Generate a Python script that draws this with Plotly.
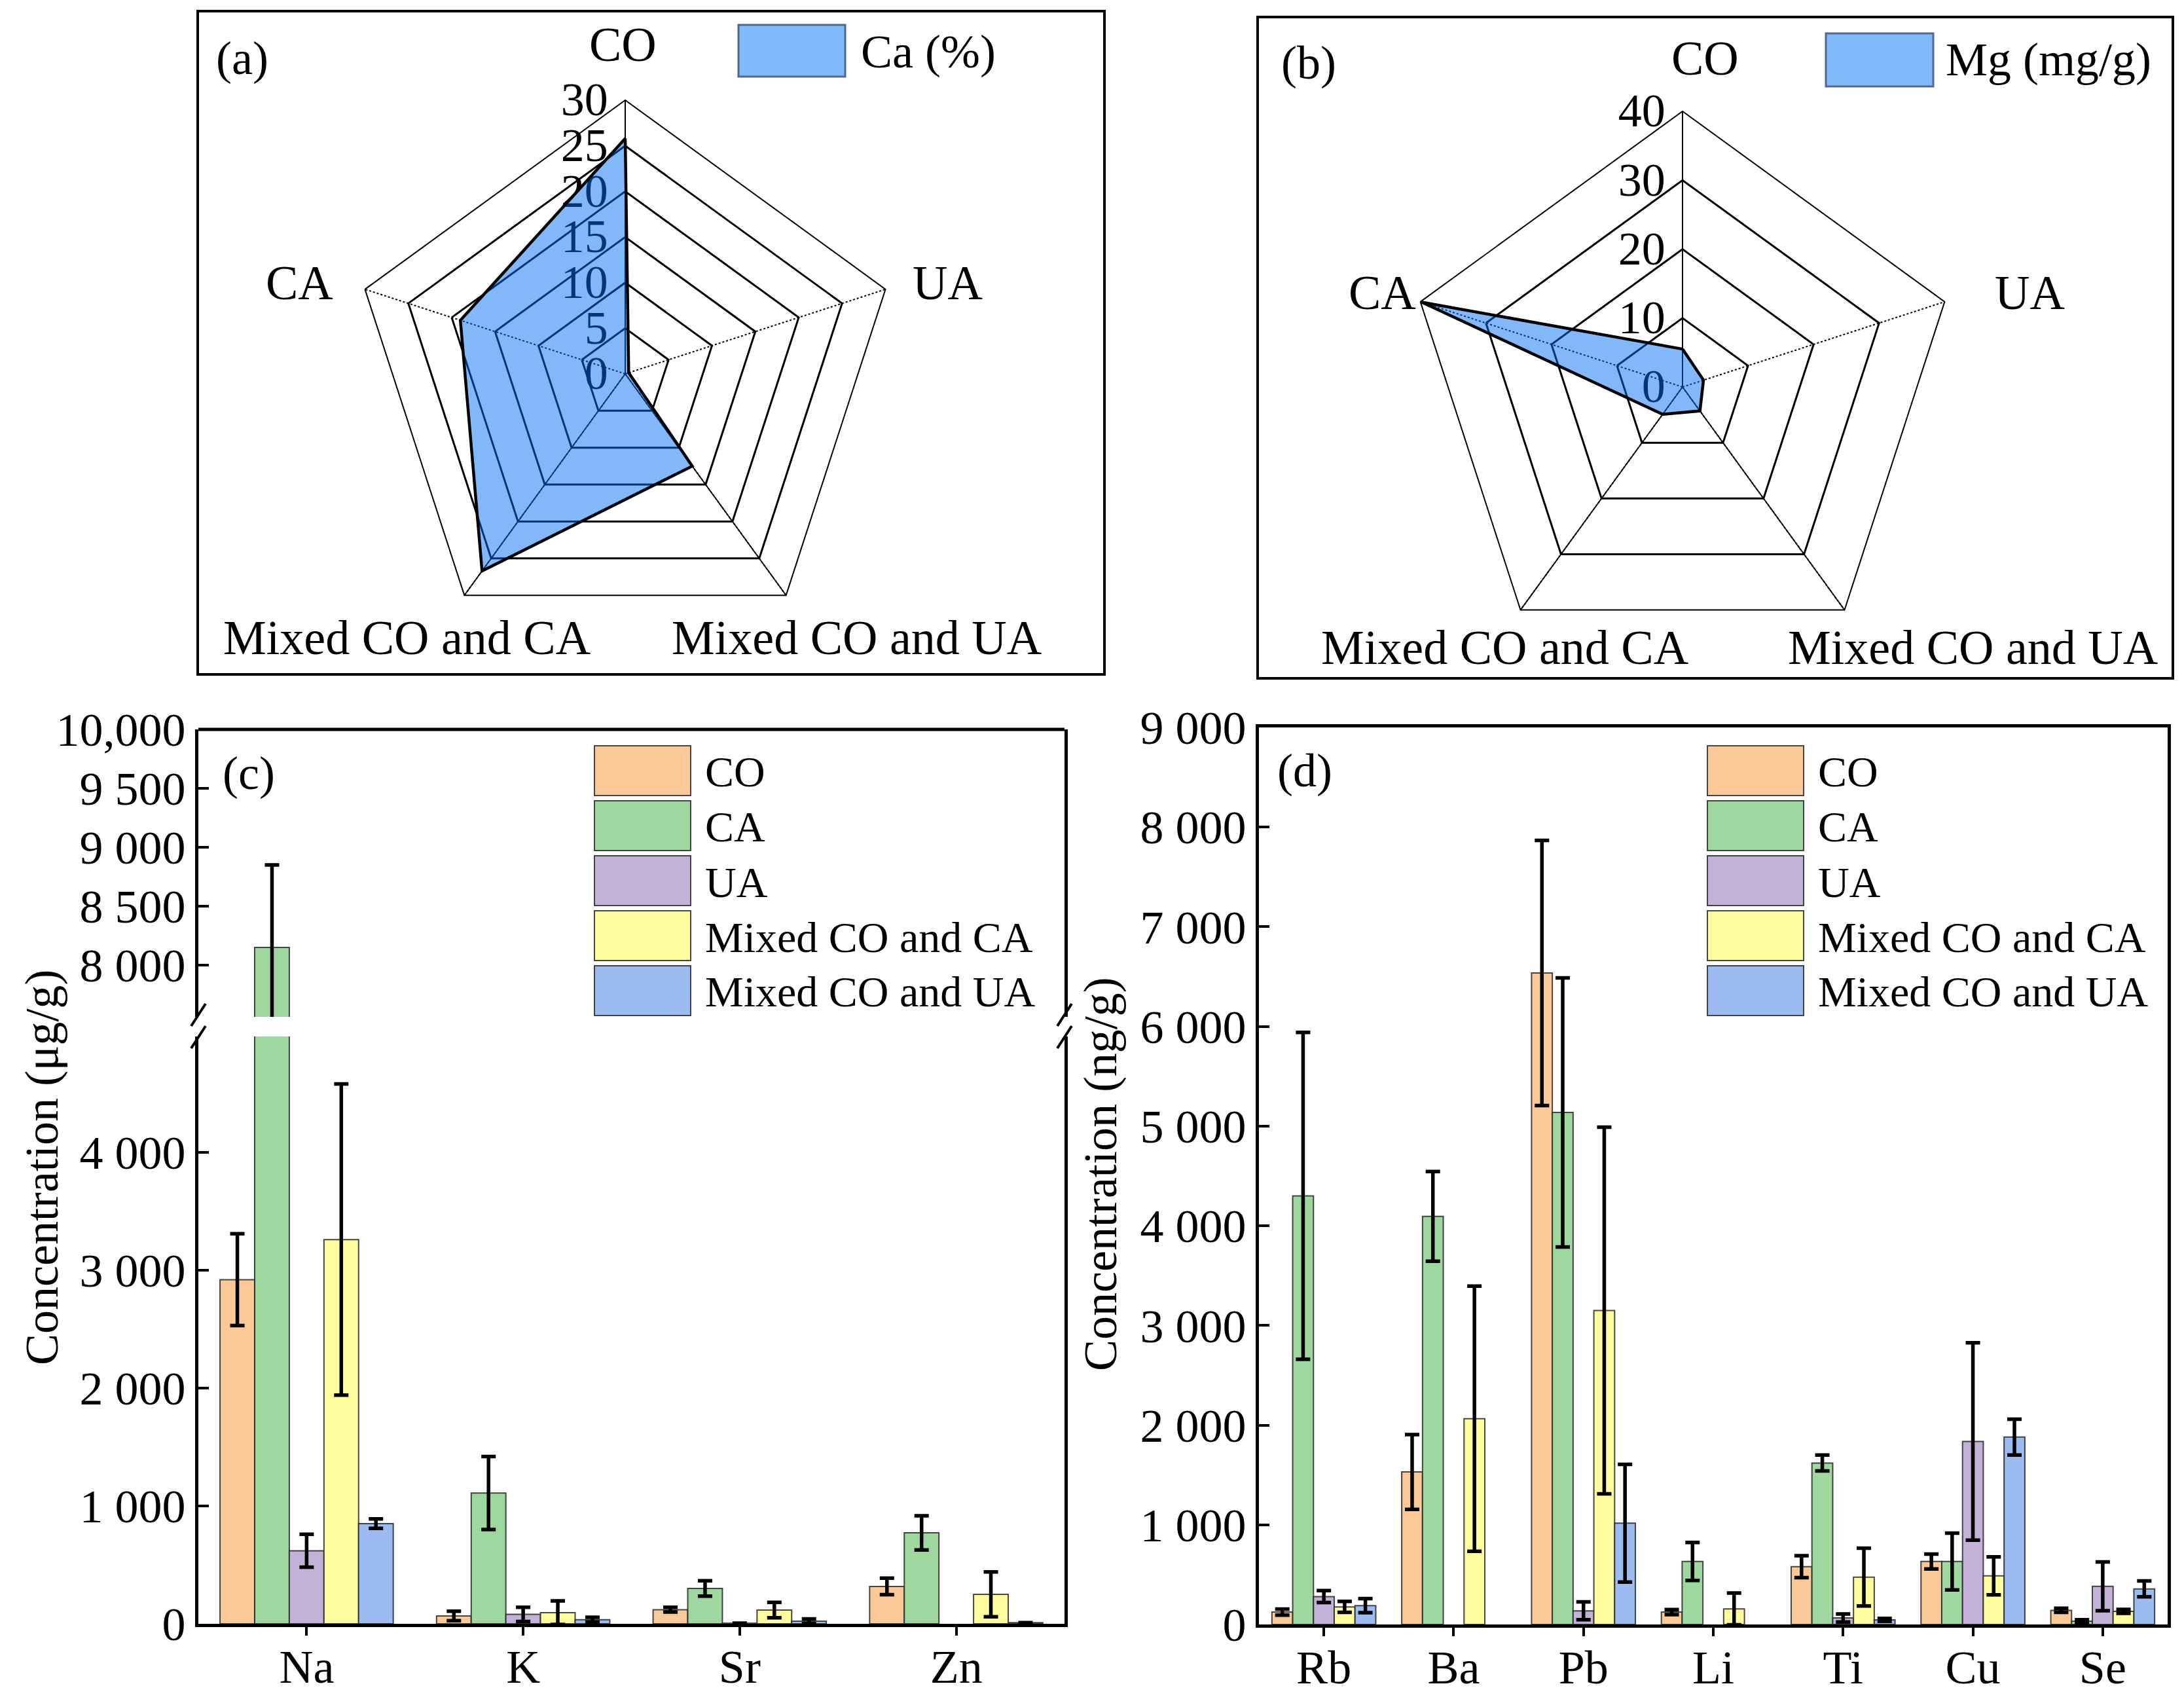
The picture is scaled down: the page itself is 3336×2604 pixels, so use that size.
import plotly.graph_objects as go

W, H = 3336, 2604
OFF = 8  # browser body margin compensation
FONT = "Liberation Serif"

# ---------------- data ----------------
radar_cats = ["CO", "UA", "Mixed CO and UA", "Mixed CO and CA", "CA"]
solid_spokes = ["Mixed CO and UA", "Mixed CO and CA"]
ca_pct = [25.8, 0.4, 12.5, 26.7, 19.0]
mg_mgg = [5.5, 3.2, 4.3, 4.9, 39.8]
ca_ticks = [0, 5, 10, 15, 20, 25, 30]
mg_ticks = [0, 10, 20, 30, 40]

groups = ["CO", "CA", "UA", "Mixed CO and CA", "Mixed CO and UA"]
bar_colors = ["#FBC898", "#9FD89F", "#C3B1D8", "#FFFD9E", "#9CBBF0"]

c_elements = ["Na", "K", "Sr", "Zn"]
c_values = {
    "CO": [2920, 67, 120, 317],
    "CA": [8150, 1110, 300, 772],
    "UA": [620, 80, 5, None],
    "Mixed CO and CA": [3260, 95, 117, 250],
    "Mixed CO and UA": [850, 35, 22, 10],
}
c_errors = {
    "CO": [390, 40, 20, 70],
    "CA": [700, 310, 65, 145],
    "UA": [140, 60, 0, 0],
    "Mixed CO and CA": [1320, 100, 65, 190],
    "Mixed CO and UA": [40, 20, 20, 0],
}
c_low_ticks = [0, 1000, 2000, 3000, 4000]
c_low_text = ["0", "1 000", "2 000", "3 000", "4 000"]
c_high_ticks = [8000, 8500, 9000, 9500, 10000]
c_high_text = ["8 000", "8 500", "9 000", "9 500", "10,000"]

d_elements = ["Rb", "Ba", "Pb", "Li", "Ti", "Cu", "Se"]
d_values = {
    "CO": [124, 1530, 6536, 124, 580, 632, 142],
    "CA": [4300, 4095, 5137, 632, 1620, 632, 33],
    "UA": [280, None, 137, None, 65, 1836, 383],
    "Mixed CO and CA": [176, 2064, 3150, 156, 475, 488, 131],
    "Mixed CO and UA": [189, None, 1016, None, 46, 1880, 357],
}
d_errors = {
    "CO": [30, 375, 1330, 25, 110, 75, 20],
    "CA": [1640, 450, 1350, 190, 80, 285, 15],
    "UA": [60, 0, 90, 0, 40, 990, 245],
    "Mixed CO and CA": [55, 1330, 1840, 160, 290, 190, 20],
    "Mixed CO and UA": [70, 0, 590, 0, 15, 180, 80],
}
d_ticks = [0, 1000, 2000, 3000, 4000, 5000, 6000, 7000, 8000, 9000]
d_text = ["0", "1 000", "2 000", "3 000", "4 000", "5 000", "6 000", "7 000", "8 000", "9 000"]


def px(x):
    return (x - OFF) / W


def py(y):
    return 1 - (y - OFF) / H


fig = go.Figure()

# ---------------- radar traces ----------------
radar_fill = "rgba(0,110,245,0.49)"
for sp, vals, ticks in [("polar", ca_pct, ca_ticks), ("polar2", mg_mgg, mg_ticks)]:
    # solid spokes for the two lower categories (the others stay dotted grid lines)
    for cat in solid_spokes:
        fig.add_trace(go.Scatterpolar(
            r=[ticks[0], ticks[-1]], theta=[cat, cat], mode="lines",
            line=dict(color="black", width=1.8), subplot=sp, showlegend=False,
            hoverinfo="skip"))
    fig.add_trace(go.Scatterpolar(
        r=vals + [vals[0]], theta=radar_cats + [radar_cats[0]],
        fill="toself", fillcolor=radar_fill, mode="lines",
        line=dict(color="black", width=4.5), subplot=sp, showlegend=False))

# ---------------- bars ----------------
err_style = dict(type="data", symmetric=True, color="black", thickness=5.5, width=11)
bar_line = dict(color="rgba(40,40,40,0.85)", width=2)
for g, col in zip(groups, bar_colors):
    for ya in ["y", "y3"]:
        fig.add_trace(go.Bar(
            x=c_elements, y=c_values[g], name=g, marker=dict(color=col, line=bar_line),
            error_y=dict(array=c_errors[g], **err_style),
            xaxis="x", yaxis=ya, showlegend=False))
    fig.add_trace(go.Bar(
        x=d_elements, y=d_values[g], name=g, marker=dict(color=col, line=bar_line),
        error_y=dict(array=d_errors[g], **err_style),
        xaxis="x2", yaxis="y2", showlegend=False))

tickfont = dict(family=FONT, size=72, color="black")
axis_common = dict(showline=True, linecolor="black", linewidth=5, showgrid=False,
                   zeroline=False, tickfont=tickfont, automargin=False)
xaxis_common = dict(ticks="outside", ticklen=13, tickwidth=4, tickcolor="black",
                    ticklabelstandoff=-14, **axis_common)
yaxis_common = dict(ticks="inside", ticklen=16, tickwidth=4, tickcolor="black",
                    mirror=True, **axis_common)

c_x0, c_x1 = 303, 1626
c_top, c_gap_top, c_gap_bot, c_bot = 1114, 1553, 1583, 2480
d_x0, d_x1, d_top, d_bot = 1923, 3311, 1111, 2481


def radar_axes(dom, rmax, ticks):
    return dict(
        domain=dom,
        gridshape="linear",
        bgcolor="white",
        radialaxis=dict(range=[0, rmax], tickvals=ticks, angle=90, showline=True,
                        linecolor="black", linewidth=2, gridcolor="black", gridwidth=3,
                        ticks="", tickangle=90, tickfont=tickfont, layer="below traces",
                        side="counterclockwise", showgrid=True),
        angularaxis=dict(rotation=90, direction="clockwise", type="category",
                         categoryarray=radar_cats, showticklabels=False, ticks="",
                         gridcolor="black", gridwidth=2.2, griddash="dot",
                         showline=True, showgrid=True,
                         linecolor="black", linewidth=2, layer="below traces"),
    )


# radar centres / radii (pixels)
a_cx, a_cy, a_R = 955, 571, 418
b_cx, b_cy, b_R = 2570, 591, 421

fig.update_layout(
    template="none",
    width=W, height=H,
    margin=dict(l=0, r=0, t=0, b=0, pad=0),
    paper_bgcolor="white", plot_bgcolor="white",
    font=dict(family=FONT, size=72, color="black"),
    barmode="group", bargap=0.2, bargroupgap=0,
    polar=radar_axes(dict(x=[px(a_cx - a_R), px(a_cx + a_R)], y=[py(a_cy + a_R), py(a_cy - a_R)]), 30, ca_ticks),
    polar2=radar_axes(dict(x=[px(b_cx - b_R), px(b_cx + b_R)], y=[py(b_cy + b_R), py(b_cy - b_R)]), 40, mg_ticks),
    xaxis=dict(domain=[px(c_x0), px(c_x1)], anchor="y", range=[-0.5, 3.5], **xaxis_common),
    yaxis=dict(domain=[py(c_bot), py(c_gap_bot)], anchor="x", range=[0, (c_bot - c_gap_bot) / 0.18],
               tickvals=c_low_ticks, ticktext=c_low_text, **yaxis_common),
    yaxis3=dict(domain=[py(c_gap_top), py(c_top)], anchor="x",
                range=[10000 - (c_gap_top - c_top) / 0.18, 10000],
                tickvals=c_high_ticks, ticktext=c_high_text, **yaxis_common),
    xaxis2=dict(domain=[px(d_x0), px(d_x1)], anchor="y2", range=[-0.5, 6.5], mirror=True, **xaxis_common),
    yaxis2=dict(domain=[py(d_bot), py(d_top)], anchor="x2", range=[0, 9000],
                tickvals=d_ticks, ticktext=d_text, **yaxis_common),
)

shapes = []
annotations = []


def rect(x0, y0, x1, y1, **kw):
    shapes.append(dict(type="rect", xref="paper", yref="paper",
                       x0=px(x0), x1=px(x1), y0=py(y1), y1=py(y0), **kw))


def line(x0, y0, x1, y1, width=5, color="black"):
    shapes.append(dict(type="line", xref="paper", yref="paper",
                       x0=px(x0), x1=px(x1), y0=py(y0), y1=py(y1),
                       line=dict(color=color, width=width)))


def text(s, x, y, size=72, xanchor="center", yanchor="middle", angle=0):
    annotations.append(dict(text=s, x=px(x), y=py(y), xref="paper", yref="paper",
                            showarrow=False, xanchor=xanchor, yanchor=yanchor,
                            textangle=angle, font=dict(family=FONT, size=size, color="black")))


# panel frames for radars
rect(302, 17, 1687, 1030, line=dict(color="black", width=4), fillcolor="rgba(0,0,0,0)")
rect(1921, 26, 3319, 1036, line=dict(color="black", width=4), fillcolor="rgba(0,0,0,0)")

# top border of (c)
line(c_x0, c_top, c_x1, c_top)
# axis break marks of (c)
for xb in [c_x0, c_x1]:
    line(xb - 11, c_gap_top + 14, xb + 11, c_gap_top - 20, width=4)
    line(xb - 11, c_gap_bot + 18, xb + 11, c_gap_bot - 16, width=4)

# radar category labels
a_lbl = {"CO": (951, 68), "CA": (457, 432), "UA": (1447, 432),
         "Mixed CO and CA": (621, 974), "Mixed CO and UA": (1308, 974)}
b_lbl = {"CO": (2604, 89), "CA": (2111, 447), "UA": (3100, 447),
         "Mixed CO and CA": (2298, 989), "Mixed CO and UA": (3013, 989)}
for cat in radar_cats:
    text(cat, *a_lbl[cat], size=74)
    text(cat, *b_lbl[cat], size=74)

# radar legends
rect(1128, 38, 1291, 117, fillcolor="rgb(128,186,250)", line=dict(color="rgb(80,105,140)", width=3))
text("Ca (%)", 1313, 79, size=72, xanchor="left")
rect(2789, 51, 2953, 132, fillcolor="rgb(128,186,250)", line=dict(color="rgb(80,105,140)", width=3))
text("Mg (mg/g)", 2970, 91, size=72, xanchor="left")

# bar legends
leg_y0, leg_step, leg_h = 1177, 84, 76
for i, (g, col) in enumerate(zip(groups, bar_colors)):
    yc = leg_y0 + i * leg_step
    for sx0, sx1, tx in [(908, 1055, 1075), (2608, 2755, 2775)]:
        rect(sx0, yc - leg_h / 2, sx1, yc + leg_h / 2, fillcolor=col,
             line=dict(color="rgba(40,40,40,0.85)", width=2))
        text(g, tx, yc + 2, size=66, xanchor="left")

# panel labels
text("(a)", 328, 89, xanchor="left")
text("(b)", 1955, 96, xanchor="left")
text("(c)", 338, 1181, xanchor="left")
text("(d)", 1949, 1177, xanchor="left")

# y-axis titles
text("Concentration (μg/g)", 64, 1783, angle=-90)
text("Concentration (ng/g)", 1681, 1793, angle=-90)

fig.update_layout(shapes=shapes, annotations=annotations)
fig.write_html("out.html")
